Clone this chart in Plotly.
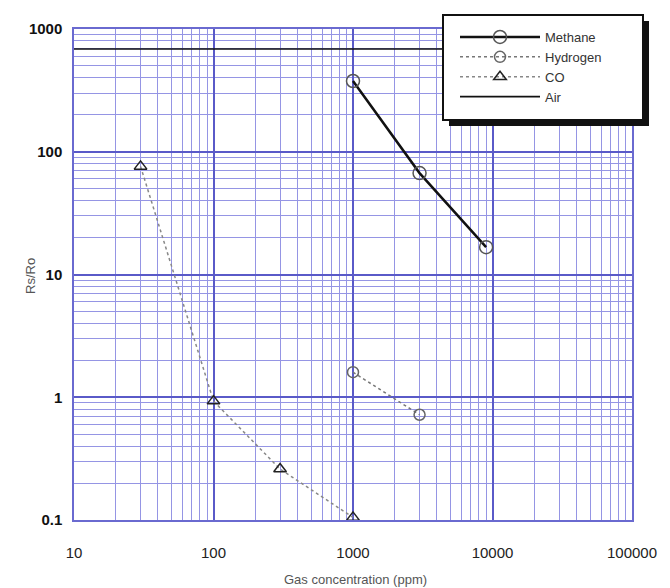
import plotly.graph_objects as go

# ---- data ----
methane_x = [1000, 3000, 9000]
methane_y = [377, 67, 16.7]

hydrogen_x = [1000, 3000]
hydrogen_y = [1.6, 0.72]

co_x = [30, 100, 300, 1000]
co_y = [76, 0.93, 0.26, 0.105]

air_x = [10, 100000]
air_y = [687, 687]

x_tickvals = [10, 100, 1000, 10000, 100000]
x_ticktext = ["10", "100", "1000", "10000", "100000"]
y_tickvals = [0.1, 1, 10, 100, 1000]
y_ticktext = ["0.1", "1", "10", "100", "1000"]

# ---- layout geometry (page body has an 8px margin) ----
OFF = 8
W, H = 670 - OFF, 588 - OFF
L, R, T, B = 74 - OFF, 38, 29 - OFF, 68
pw, ph = W - L - R, H - T - B


def px(x):
    # screen x pixel -> paper coordinate
    return (x - OFF - L) / pw


def py(y):
    # screen y pixel -> paper coordinate
    return (H + OFF - B - y) / ph


fig = go.Figure()

fig.add_trace(go.Scatter(
    x=methane_x, y=methane_y, name="Methane", mode="lines+markers",
    line=dict(color="#111111", width=2.5),
    marker=dict(symbol="circle-open", size=13, color="#555555", line=dict(width=1.5)),
))
fig.add_trace(go.Scatter(
    x=hydrogen_x, y=hydrogen_y, name="Hydrogen", mode="lines+markers",
    line=dict(color="#777777", width=1.5, dash="dot"),
    marker=dict(symbol="circle-open", size=11, color="#666666", line=dict(width=1.5)),
))
fig.add_trace(go.Scatter(
    x=co_x, y=co_y, name="CO", mode="lines+markers",
    line=dict(color="#888888", width=1.5, dash="dot"),
    marker=dict(symbol="triangle-up-open", size=11, color="#222222", line=dict(width=1.5)),
))
fig.add_trace(go.Scatter(
    x=air_x, y=air_y, name="Air", mode="lines",
    line=dict(color="#111111", width=1.6),
))

grid_major = "#5a5ac8"
grid_minor = "#9595e4"

axis_common = dict(
    type="log",
    showline=True, mirror=True, linecolor="#6a6ad0", linewidth=1.5,
    showgrid=True, gridcolor=grid_major, gridwidth=1.5,
    ticks="", zeroline=False,
    minor=dict(showgrid=True, dtick="D1", gridcolor=grid_minor, gridwidth=1),
)

fig.update_xaxes(
    **axis_common,
    range=[1, 5], dtick=1,
    tickvals=x_tickvals, ticktext=x_ticktext,
    ticklabelstandoff=18,
    tickfont=dict(family="Liberation Sans", size=15, color="#222222"),
)
fig.update_yaxes(
    **axis_common,
    range=[-1, 3], dtick=1,
    tickvals=y_tickvals, ticktext=y_ticktext,
    ticklabelstandoff=7,
    tickfont=dict(family="Liberation Sans", size=15, color="#111111", weight="bold"),
)

# axis titles placed like the reference
fig.add_annotation(text="Gas concentration (ppm)", xref="paper", yref="paper",
                   x=px(355), y=py(579), xanchor="center", yanchor="middle",
                   showarrow=False,
                   font=dict(family="Liberation Sans", size=13, color="#555555"))
fig.add_annotation(text="Rs/Ro", xref="paper", yref="paper", textangle=-90,
                   x=px(30), y=py(276), xanchor="center", yanchor="middle",
                   showarrow=False,
                   font=dict(family="Liberation Sans", size=13, color="#555555"))

# legend box with drop shadow
fig.add_shape(type="rect", xref="paper", yref="paper", layer="above",
              x0=px(449), x1=px(649), y0=py(126), y1=py(21),
              fillcolor="#111111", line=dict(width=0))
fig.add_shape(type="rect", xref="paper", yref="paper", layer="above",
              x0=px(443), x1=px(643), y0=py(120), y1=py(15),
              fillcolor="white", line=dict(color="#111111", width=2))

fig.update_layout(
    width=W, height=H,
    margin=dict(l=L, r=R, t=T, b=B),
    paper_bgcolor="white", plot_bgcolor="white",
    showlegend=True,
    legend=dict(
        x=px(455), y=py(22), xanchor="left", yanchor="top",
        bgcolor="rgba(0,0,0,0)", borderwidth=0, itemwidth=80,
        font=dict(family="Liberation Sans", size=13, color="#333333"),
    ),
)

fig.write_html("out.html")
